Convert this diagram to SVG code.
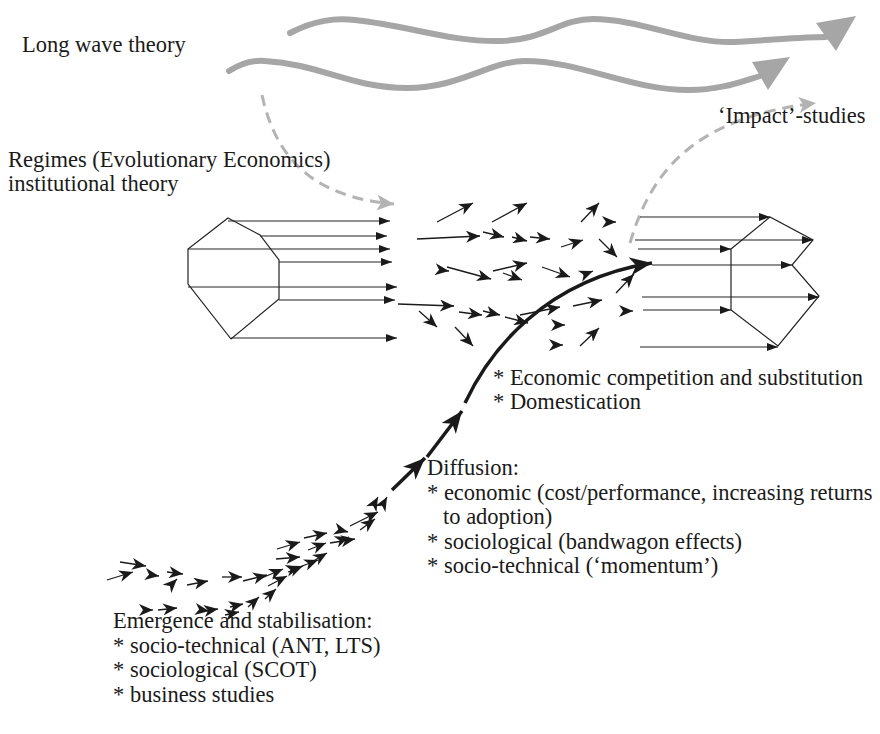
<svg xmlns="http://www.w3.org/2000/svg" width="880" height="734" viewBox="0 0 880 734">
<defs>
<style>
text{font-family:"Liberation Serif","Times New Roman",serif;font-size:22.5px;fill:#1a1a1a}
.wave{fill:none;stroke:#a6a6a6;stroke-width:6;stroke-linecap:round}
.wavehead{fill:#a6a6a6}
.dash{fill:none;stroke:#b3b3b3;stroke-width:3;stroke-dasharray:11 7}
.poly{fill:none;stroke:#222;stroke-width:1.2}
.pl{stroke:#222;stroke-width:1.2;marker-end:url(#mp)}
.sa{stroke:#1a1a1a;stroke-width:1.3;fill:none;marker-end:url(#ms)}
.ba{stroke:#1a1a1a;stroke-width:3.5;fill:none;marker-end:url(#mb)}
</style>
<marker id="ms" markerUnits="userSpaceOnUse" viewBox="0 0 15 12" markerWidth="15" markerHeight="12" refX="14" refY="6" orient="auto"><path d="M0,0 L14,6 L0,12 L4,6 Z" fill="#1a1a1a"/></marker>
<marker id="mp" markerUnits="userSpaceOnUse" viewBox="0 0 12 9" markerWidth="12" markerHeight="9" refX="11" refY="4" orient="auto"><path d="M0,0 L11,4 L0,8 Z" fill="#1a1a1a"/></marker>
<marker id="mb" markerUnits="userSpaceOnUse" viewBox="0 0 23 18" markerWidth="23" markerHeight="18" refX="22" refY="9" orient="auto"><path d="M0,0 L22,9 L0,18 L6,9 Z" fill="#1a1a1a"/></marker>
<marker id="mg" markerUnits="userSpaceOnUse" viewBox="0 0 18 16" markerWidth="18" markerHeight="16" refX="17" refY="8" orient="auto"><path d="M0,0 L17,8 L0,16 L4,8 Z" fill="#b3b3b3"/></marker>
</defs>
<rect width="880" height="734" fill="#fff"/>

<g id="long-waves">
<path class="wave" d="M290,33 C315,20 335,18 355,20 C410,26 450,42 500,41 C545,40 560,19 593,19 C640,19 690,44 734,42 C775,40 800,37 826,37"/>
<polygon class="wavehead" points="816,23 856,16 836,51"/>
<path class="wave" d="M229,71 C243,62 255,60 265,61 C320,64 350,88 407,88 C460,88 490,61 525,61 C580,61 630,90 689,90 C720,90 740,82 760,76"/>
<polygon class="wavehead" points="752,62 790,57 768,90"/>
</g>

<g id="connectors">
<path class="dash" d="M262,95 C275,155 310,197 394,204" marker-end="url(#mg)"/>
<path class="dash" d="M630,243 C650,175 690,118 816,103" marker-end="url(#mg)"/>
</g>

<g id="regime-left">
<polygon class="poly" points="228,218 260,235 279,260 279,299 231,339 188,284 188,249"/>
<line class="pl" x1="228" y1="221" x2="390" y2="221"/>
<line class="pl" x1="260" y1="236" x2="387" y2="236"/>
<line class="pl" x1="188" y1="249" x2="390" y2="249"/>
<line class="pl" x1="279" y1="262" x2="392" y2="262"/>
<line class="pl" x1="188" y1="287" x2="397" y2="287"/>
<line class="pl" x1="279" y1="300" x2="395" y2="300"/>
<line class="pl" x1="231" y1="338" x2="397" y2="338"/>
</g>

<g id="regime-right">
<polygon class="poly" points="731,249 770,217 813,240 792,265 819,296 778,346 731,310"/>
<line class="pl" x1="640" y1="217" x2="770" y2="217"/>
<line class="pl" x1="635" y1="240" x2="813" y2="240"/>
<line class="pl" x1="638" y1="249" x2="731" y2="249"/>
<line class="pl" x1="652" y1="265" x2="792" y2="265"/>
<line class="pl" x1="642" y1="297" x2="819" y2="297"/>
<line class="pl" x1="643" y1="310" x2="731" y2="310"/>
<line class="pl" x1="640" y1="347" x2="778" y2="347"/>
</g>

<g id="swarm-middle">
<line class="sa" x1="437" y1="222" x2="473" y2="203"/>
<line class="sa" x1="492" y1="222" x2="527" y2="203"/>
<line class="sa" x1="417" y1="239" x2="480" y2="236"/>
<line class="sa" x1="483" y1="232" x2="504" y2="237"/>
<line class="sa" x1="512" y1="237" x2="527" y2="241"/>
<line class="sa" x1="530" y1="237" x2="550" y2="239"/>
<line class="sa" x1="561" y1="247" x2="583" y2="240"/>
<line class="sa" x1="581" y1="222" x2="599" y2="203"/>
<line class="sa" x1="608" y1="222" x2="616" y2="222"/>
<line class="sa" x1="599" y1="239" x2="617" y2="257"/>
<line class="sa" x1="441" y1="270" x2="449" y2="271"/>
<line class="sa" x1="447" y1="267" x2="491" y2="279"/>
<line class="sa" x1="493" y1="271" x2="527" y2="263"/>
<line class="sa" x1="503" y1="273" x2="522" y2="280"/>
<line class="sa" x1="542" y1="267" x2="570" y2="277"/>
<line class="sa" x1="398" y1="304" x2="454" y2="306"/>
<line class="sa" x1="419" y1="311" x2="437" y2="327"/>
<line class="sa" x1="459" y1="312" x2="482" y2="315"/>
<line class="sa" x1="483" y1="311" x2="500" y2="315"/>
<line class="sa" x1="505" y1="317" x2="528" y2="323"/>
<line class="sa" x1="520" y1="315" x2="560" y2="307"/>
<line class="sa" x1="573" y1="306" x2="602" y2="300"/>
<line class="sa" x1="455" y1="327" x2="473" y2="346"/>
<line class="sa" x1="557" y1="325" x2="565" y2="325"/>
<line class="sa" x1="555" y1="345" x2="563" y2="345"/>
<line class="sa" x1="580" y1="346" x2="599" y2="328"/>
<line class="sa" x1="616" y1="293" x2="634" y2="274"/>
<line class="sa" x1="625" y1="311" x2="633" y2="311"/>
<line class="sa" x1="583" y1="275" x2="593" y2="271"/>
</g>

<g id="swarm-lower">
<line class="sa" x1="120" y1="562" x2="146" y2="566"/>
<line class="sa" x1="107" y1="580" x2="133" y2="572"/>
<line class="sa" x1="152" y1="575" x2="159" y2="576"/>
<line class="sa" x1="167" y1="572" x2="183" y2="574"/>
<line class="sa" x1="170" y1="586" x2="177" y2="579"/>
<line class="sa" x1="187" y1="585" x2="208" y2="581"/>
<line class="sa" x1="222" y1="577" x2="242" y2="577"/>
<line class="sa" x1="243" y1="581" x2="267" y2="575"/>
<line class="sa" x1="257" y1="580" x2="283" y2="569"/>
<line class="sa" x1="268" y1="586" x2="287" y2="576"/>
<line class="sa" x1="277" y1="549" x2="300" y2="542"/>
<line class="sa" x1="276" y1="559" x2="300" y2="557"/>
<line class="sa" x1="293" y1="569" x2="300" y2="567"/>
<line class="sa" x1="265" y1="599" x2="276" y2="589"/>
<line class="sa" x1="248" y1="607" x2="259" y2="597"/>
<line class="sa" x1="146" y1="610" x2="153" y2="610"/>
<line class="sa" x1="158" y1="610" x2="177" y2="608"/>
<line class="sa" x1="202" y1="610" x2="209" y2="611"/>
<line class="sa" x1="211" y1="610" x2="218" y2="609"/>
<line class="sa" x1="225" y1="615" x2="239" y2="612"/>
<line class="sa" x1="230" y1="607" x2="243" y2="604"/>
<line class="sa" x1="308" y1="550" x2="326" y2="543"/>
<line class="sa" x1="304" y1="538" x2="327" y2="533"/>
<line class="sa" x1="330" y1="543" x2="355" y2="539"/>
<line class="sa" x1="340" y1="530" x2="348" y2="532"/>
<line class="sa" x1="341" y1="540" x2="349" y2="537"/>
<line class="sa" x1="350" y1="526" x2="378" y2="512"/>
<line class="sa" x1="360" y1="530" x2="375" y2="519"/>
<line class="sa" x1="310" y1="563" x2="327" y2="553"/>
<line class="sa" x1="297" y1="568" x2="318" y2="560"/>
<line class="sa" x1="288" y1="572" x2="303" y2="566"/>
<line class="sa" x1="373" y1="506" x2="378" y2="497"/>
<line class="sa" x1="382" y1="506" x2="387" y2="497"/>
</g>

<g id="main-trajectory">
<line class="ba" x1="392" y1="490" x2="425" y2="458"/>
<line class="ba" x1="427" y1="457" x2="462" y2="411"/>
<path class="ba" d="M465,403 C490,350 545,280 652,263"/>
</g>

<g id="label-long-wave"><text x="22" y="52">Long wave theory</text></g>
<g id="label-impact"><text x="718" y="123">‘Impact’-studies</text></g>
<g id="label-regimes">
<text x="8" y="167">Regimes (Evolutionary Economics)</text>
<text x="8" y="191">institutional theory</text>
</g>
<g id="label-competition">
<text x="493" y="385">* Economic competition and substitution</text>
<text x="493" y="409">* Domestication</text>
</g>
<g id="label-diffusion">
<text x="427" y="475">Diffusion:</text>
<text x="427" y="500">* economic (cost/performance, increasing returns</text>
<text x="443" y="524">to adoption)</text>
<text x="427" y="549">* sociological (bandwagon effects)</text>
<text x="427" y="573">* socio-technical (‘momentum’)</text>
</g>
<g id="label-emergence">
<text x="113" y="628">Emergence and stabilisation:</text>
<text x="113" y="653">* socio-technical (ANT, LTS)</text>
<text x="113" y="677">* sociological (SCOT)</text>
<text x="113" y="702">* business studies</text>
</g>
</svg>
